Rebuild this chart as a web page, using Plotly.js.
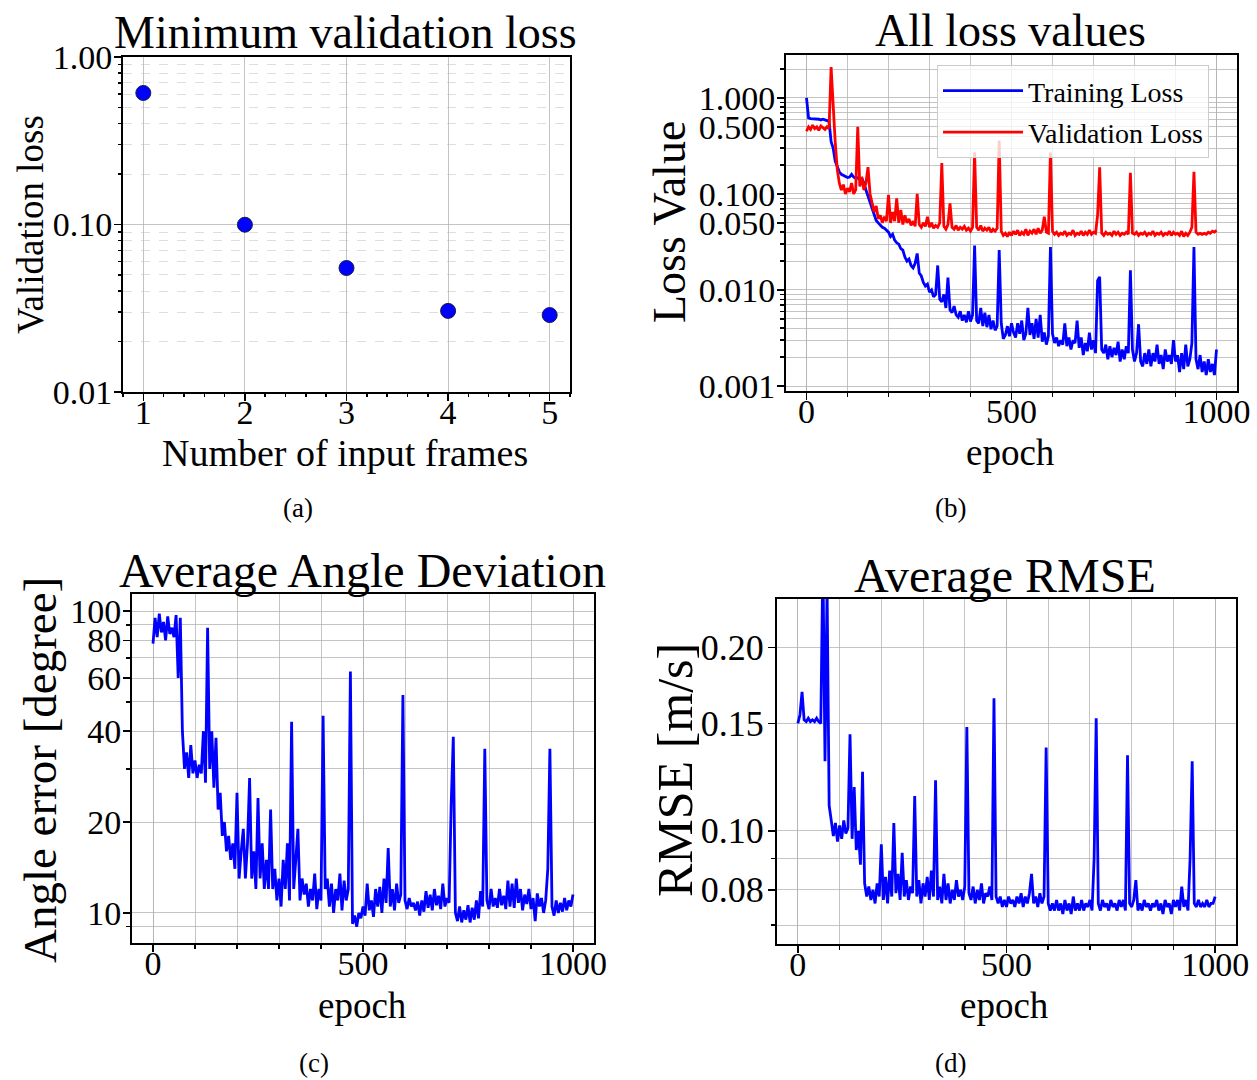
<!DOCTYPE html>
<html><head><meta charset="utf-8">
<script src="https://cdn.plot.ly/plotly-3.0.1.min.js"></script>
<style>body{margin:0;background:#fff}#chart{width:1257px;height:1080px}</style>
</head><body><div id="chart"></div>
<script>
// ---------- data ----------
const frames = [1, 2, 3, 4, 5];
const minValLoss = [0.61, 0.0997, 0.055, 0.0305, 0.0288];

const epochStep = 5; // values below are sampled every 5 epochs (0..1000)

const trainLoss = [1.0, 0.62,0.61,0.61,0.60,0.61,0.60,0.59,0.60,0.59,0.58,0.57,
0.35,0.30,0.22,0.19,0.17,0.16,0.155,0.15,0.148,0.15,0.16,0.15,0.145,0.148,0.14,0.145,0.13,0.11,
0.095,0.085,0.07,0.06,0.053,0.05,0.047,0.045,0.044,0.042,
0.040,0.036,0.038,0.033,0.031,0.03,0.027,0.026,0.022,0.020,
0.021,0.018,0.017,0.019,0.024,0.015,0.014,0.012,0.011,0.0115,
0.0095,0.010,0.0085,0.009,0.018,0.008,0.0075,0.009,0.0065,0.0135,
0.0062,0.0058,0.0068,0.0055,0.0052,0.006,0.0048,0.0055,0.0046,0.006,
0.0047,0.0055,0.029,0.0048,0.0045,0.0065,0.0042,0.0058,0.0041,0.0055,
0.0039,0.0048,0.0038,0.0042,0.026,0.0045,0.0031,0.0034,0.0042,0.0033,
0.0045,0.0036,0.0032,0.0045,0.0035,0.0048,0.003,0.0035,0.0065,0.0034,
0.0045,0.0031,0.005,0.0032,0.0055,0.0029,0.0036,0.0027,0.0033,0.028,
0.0035,0.0028,0.0032,0.0026,0.003,0.0027,0.0045,0.0026,0.0032,0.0024,
0.003,0.0028,0.0048,0.0025,0.0032,0.0021,0.0028,0.0023,0.0036,0.0024,
0.0030,0.0022,0.0125,0.0137,0.0024,0.0022,0.0027,0.0019,0.0026,0.002,
0.0025,0.0021,0.0029,0.0018,0.0024,0.0019,0.0026,0.0022,0.016,0.0024,
0.0018,0.0022,0.0044,0.0018,0.0016,0.0022,0.0017,0.0024,0.0016,0.0022,
0.0018,0.0027,0.0017,0.0021,0.0015,0.0024,0.0018,0.0021,0.0017,0.003,
0.0018,0.0021,0.0014,0.0022,0.0015,0.0027,0.0016,0.0019,0.0028,0.028,
0.0019,0.0015,0.0021,0.0014,0.0018,0.0013,0.0019,0.0014,0.0017,0.0013,0.0024];

const valLoss = [0.45, 0.50,0.47,0.52,0.48,0.50,0.46,0.51,0.49,0.47,0.50,0.48,
2.1,0.8,0.35,0.18,0.13,0.11,0.125,0.10,0.115,0.105,0.13,0.10,0.11,0.5,0.12,0.15,0.11,0.13,
0.19,0.10,0.08,0.065,0.075,0.055,0.06,0.05,0.058,0.052,
0.098,0.05,0.065,0.052,0.09,0.05,0.068,0.048,0.06,0.05,
0.055,0.047,0.052,0.046,0.10,0.048,0.045,0.05,0.046,0.058,
0.045,0.05,0.044,0.047,0.045,0.05,0.21,0.046,0.043,0.048,
0.08,0.045,0.043,0.047,0.042,0.045,0.043,0.046,0.042,0.044,
0.041,0.045,0.27,0.045,0.042,0.047,0.041,0.044,0.042,0.045,
0.040,0.043,0.041,0.044,0.36,0.041,0.037,0.039,0.036,0.04,
0.037,0.041,0.038,0.042,0.037,0.04,0.038,0.043,0.037,0.041,
0.039,0.043,0.038,0.044,0.039,0.042,0.058,0.04,0.039,0.27,
0.041,0.038,0.04,0.037,0.039,0.038,0.041,0.037,0.039,0.038,
0.042,0.037,0.039,0.038,0.041,0.037,0.04,0.038,0.042,0.038,
0.04,0.039,0.06,0.19,0.039,0.037,0.04,0.038,0.039,0.037,
0.041,0.038,0.04,0.037,0.039,0.038,0.04,0.038,0.166,0.039,
0.038,0.04,0.037,0.039,0.038,0.04,0.037,0.039,0.038,0.041,
0.037,0.039,0.038,0.04,0.037,0.039,0.038,0.041,0.037,0.04,
0.038,0.039,0.037,0.041,0.036,0.039,0.037,0.04,0.045,0.17,
0.04,0.038,0.039,0.038,0.039,0.038,0.04,0.039,0.041,0.04,0.042];

const angleErr = [78, 95,82,98,85,92,80,96,84,88,82,97,
60,95,40,30,34,28,36,29,32,28,31,29,40,27,88,30,40,26,
38,22,25,18,20,16,18,15,17,14,
25,13,16,19,13,17,28,13,16,12,
24,13,17,12,15,12,22,12,14,11,
13,10.5,15,12,17,11,43,12,15,19,
11,13,11.5,12.5,10.5,12,11,13.5,10.3,12,
11,45,12,13,10.5,12.5,10,12,11,13.5,
10.2,12.8,11,12,63,9.2,9.8,9,10,9.6,
10.5,9.8,12.5,10.2,11,9.7,12,10.5,12.2,10,
13,10.8,16.4,10.5,12,10.2,12.5,10.8,11.5,52.7,
11,10.3,11.2,10.5,10.8,10.2,10.9,9.8,11,10.1,
11.8,10.4,11.5,10.2,12,10.6,11.4,10.3,12.5,10.5,
11.2,10.8,23,38.3,10,9.4,10.5,9.3,10.2,9.5,
10.6,9.3,10.4,9.5,11,9.6,11.8,10.5,35,11,
10.3,12,10.5,11.2,10.4,12,10.6,11.4,10.3,12.8,
10.5,12.5,10.4,13,10.8,12,10.2,11.5,10.7,12,
10.3,11.2,9.4,11.6,10.5,11.2,10,11,14,35,
10.5,9.8,11,10,10.8,10.1,11.2,10.2,11,10.5,11.5];

const rmse = [0.150, 0.155,0.169,0.152,0.151,0.153,0.151,0.152,0.151,0.153,0.151,0.150,
0.28,0.13,0.25,0.11,0.104,0.098,0.103,0.096,0.102,0.097,0.104,0.099,0.101,0.144,0.097,0.118,0.093,0.1,
0.088,0.125,0.082,0.078,0.081,0.077,0.08,0.076,0.082,0.078,
0.095,0.077,0.084,0.076,0.086,0.078,0.103,0.079,0.085,0.077,
0.092,0.078,0.083,0.077,0.081,0.079,0.114,0.078,0.083,0.076,
0.082,0.078,0.084,0.077,0.086,0.078,0.121,0.077,0.081,0.076,
0.085,0.077,0.082,0.076,0.08,0.077,0.083,0.078,0.08,0.077,
0.081,0.148,0.079,0.077,0.081,0.076,0.08,0.077,0.082,0.076,
0.079,0.078,0.081,0.077,0.165,0.078,0.076,0.078,0.075,0.077,
0.075,0.078,0.076,0.077,0.075,0.078,0.076,0.079,0.075,0.078,
0.076,0.079,0.085,0.076,0.078,0.075,0.079,0.076,0.078,0.137,
0.076,0.074,0.076,0.074,0.077,0.074,0.076,0.073,0.077,0.074,
0.076,0.073,0.078,0.074,0.076,0.074,0.077,0.074,0.076,0.075,
0.077,0.074,0.09,0.153,0.076,0.074,0.077,0.075,0.076,0.074,
0.077,0.075,0.076,0.074,0.077,0.075,0.077,0.074,0.133,0.076,
0.075,0.077,0.083,0.074,0.076,0.074,0.077,0.075,0.076,0.074,
0.076,0.075,0.077,0.074,0.076,0.073,0.077,0.075,0.076,0.073,
0.077,0.075,0.077,0.074,0.081,0.075,0.077,0.074,0.09,0.13,
0.076,0.075,0.077,0.075,0.076,0.075,0.077,0.075,0.076,0.076,0.078];

// tick labels
const tickA = [0.01, 0.1, 1], tickAText = ['0.01', '0.10', '1.00'];
const tickB = [0.001, 0.01, 0.05, 0.1, 0.5, 1], tickBText = ['0.001', '0.010', '0.050', '0.100', '0.500', '1.000'];
const tickC = [10, 20, 40, 60, 80, 100], tickCText = ['10', '20', '40', '60', '80', '100'];
const tickD = [0.08, 0.10, 0.15, 0.20], tickDText = ['0.08', '0.10', '0.15', '0.20'];
const tickEpoch = [0, 500, 1000];
const minorB = [0.002,0.003,0.004,0.005,0.006,0.007,0.008,0.009,0.02,0.03,0.04,0.06,0.07,0.08,0.09,0.2,0.3,0.4,0.6,0.7,0.8,0.9,2];
const minorA = [0.02,0.03,0.04,0.05,0.06,0.07,0.08,0.09,0.2,0.3,0.4,0.5,0.6,0.7,0.8,0.9];
const minorC = [9, 30, 50, 70, 90];
const minorD = [0.07, 0.09];

const epochs = trainLoss.map((_, i) => i * epochStep);

// ---------- style ----------
const F = 'Liberation Serif, DejaVu Serif, serif';
const GRID = 'rgba(176,176,176,0.75)';
const W = 1257, H = 1080;
const px = v => v / W, py = v => 1 - v / H;

function axis(extra, fs) {
  return Object.assign({
    showline: true, mirror: true, linecolor: '#000', linewidth: 2,
    ticks: 'outside', ticklen: 7, tickwidth: 1.5, tickcolor: '#000',
    showgrid: true, gridcolor: GRID, gridwidth: 1, zeroline: false,
    tickfont: { family: F, size: fs || 34, color: '#000' }, fixedrange: true
  }, extra);
}
const XSTAND = -18, YSTAND = -5;
const epochAxis = (domain, anchor) => axis({
  domain, anchor, range: [-50, 1050], tickmode: 'array', tickvals: tickEpoch, ticklabelstandoff: XSTAND,
  minor: { dtick: 100, tick0: 0, ticks: 'outside', ticklen: 4, tickcolor: '#000', showgrid: true, gridcolor: GRID }
});
const logMinor = vals => ({ tickmode: 'array', tickvals: vals, ticks: 'outside', ticklen: 4, tickcolor: '#000', showgrid: true, gridcolor: GRID });

const blue = '#0000ff', red = '#ff0000';
const LW = 2.8;

const traces = [
  { x: frames, y: minValLoss, xaxis: 'x', yaxis: 'y', mode: 'markers', showlegend: false,
    marker: { color: blue, size: 15, line: { color: '#1a1a4a', width: 1 } } },
  { x: epochs, y: trainLoss, xaxis: 'x2', yaxis: 'y2', mode: 'lines', name: 'Training Loss', legendgroup: 'g1',
    line: { color: blue, width: LW } },
  { x: epochs, y: valLoss, xaxis: 'x2', yaxis: 'y2', mode: 'lines', name: 'Validation Loss', legendgroup: 'g2',
    line: { color: red, width: LW } },
  { x: epochs, y: angleErr, xaxis: 'x3', yaxis: 'y3', mode: 'lines', showlegend: false,
    line: { color: blue, width: LW } },
  { x: epochs, y: rmse, xaxis: 'x4', yaxis: 'y4', mode: 'lines', showlegend: false,
    line: { color: blue, width: LW } }
];

const ann = (text, x, y, size, rot) => ({
  text, x: px(x), y: py(y), xref: 'paper', yref: 'paper', showarrow: false,
  xanchor: 'center', yanchor: 'middle', textangle: rot || 0,
  font: { family: F, size, color: '#000' }
});

const layout = {
  width: W, height: H, margin: { l: 0, r: 0, t: 0, b: 0 },
  paper_bgcolor: '#fff', plot_bgcolor: '#fff', hovermode: false,
  xaxis: axis({ domain: [px(123), px(570)], anchor: 'y', range: [0.8, 5.2], tickmode: 'array', tickvals: frames,
    ticklabelstandoff: XSTAND,
    minor: { dtick: 0.2, tick0: 0, ticks: 'outside', ticklen: 3, tickcolor: '#000', showgrid: false } }),
  yaxis: axis({ domain: [py(392), py(57)], anchor: 'x', type: 'log', range: [-2, 0], tickmode: 'array',
    tickvals: tickA, ticktext: tickAText, ticklabelstandoff: YSTAND,
    minor: { tickmode: 'array', tickvals: minorA, ticks: 'outside', ticklen: 3, tickcolor: '#000', showgrid: true,
      gridcolor: 'rgba(200,200,200,0.6)', griddash: 'dash' } }),
  xaxis2: epochAxis([px(786), px(1237)], 'y2'),
  yaxis2: axis({ domain: [py(391), py(55)], anchor: 'x2', type: 'log', range: [-3.052, Math.log10(2.8)],
    tickmode: 'array', tickvals: tickB, ticktext: tickBText, ticklabelstandoff: YSTAND, minor: logMinor(minorB) }, 34),
  xaxis3: epochAxis([px(132), px(594)], 'y3'),
  yaxis3: axis({ domain: [py(943), py(594)], anchor: 'x3', type: 'log', range: [Math.log10(7.95), Math.log10(113.9)],
    tickmode: 'array', tickvals: tickC, ticktext: tickCText, ticklabelstandoff: YSTAND, minor: logMinor(minorC) }, 34),
  xaxis4: epochAxis([px(777), px(1236)], 'y4'),
  yaxis4: axis({ domain: [py(944), py(599)], anchor: 'x4', type: 'log', range: [Math.log10(0.0652), Math.log10(0.240)],
    tickmode: 'array', tickvals: tickD, ticktext: tickDText, ticklabelstandoff: -3, minor: logMinor(minorD) }, 36),
  legend: { x: px(937), y: py(65), xanchor: 'left', yanchor: 'top', bgcolor: 'rgba(255,255,255,0.8)',
    bordercolor: '#cccccc', borderwidth: 1, itemwidth: 80, tracegroupgap: 2,
    font: { family: F, size: 28, color: '#000' } },
  annotations: [
    ann('Minimum validation loss', 345, 32, 46),
    ann('All loss values', 1010, 30, 46),
    ann('Average Angle Deviation', 362, 570, 48),
    ann('Average RMSE', 1005, 575, 48),
    ann('Number of input frames', 345, 453, 38),
    ann('epoch', 1010, 452, 37),
    ann('epoch', 362, 1005, 37),
    ann('epoch', 1005, 1005, 37),
    ann('Validation loss', 30, 225, 37, -90),
    ann('Loss Value', 670, 222, 46, -90),
    ann('Angle error [degree]', 40, 770, 47, -90),
    ann('RMSE [m/s]', 675, 770, 50, -90),
    ann('(a)', 298, 508, 27),
    ann('(b)', 950, 508, 27),
    ann('(c)', 314, 1063, 27),
    ann('(d)', 950, 1063, 27)
  ]
};

Plotly.newPlot('chart', traces, layout, { staticPlot: true, displayModeBar: false });
</script>
</body></html>
